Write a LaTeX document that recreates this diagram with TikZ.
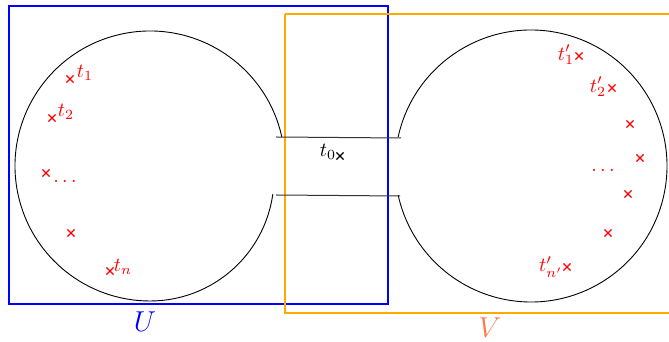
\documentclass[tikz,border=0pt]{standalone}
\usetikzlibrary{shapes.misc}
\definecolor{uorange}{RGB}{255,170,0}
\definecolor{vcoral}{RGB}{255,120,70}
\tikzset{
  crossmark/.style={draw=red, cross out, minimum size=3pt, inner sep=0pt, line width=0.6pt},
  blackmark/.style={draw=black, cross out, minimum size=3pt, inner sep=0pt, line width=0.6pt},
  redlab/.style={text=red, inner sep=0pt},
  outline/.style={line width=0.45pt, black},
  neck/.style={line width=0.5pt, black!80},
  setbox/.style={line width=1.4pt},
}
\begin{document}
\begin{tikzpicture}[x=0.5pt,y=0.5pt]
\useasboundingbox (0,0) rectangle (669,342);
% boxes
\draw[setbox, blue] (9,336) rectangle (388,38);
\draw[setbox, uorange] (285,328) -- (690,328) (285,328) -- (285,29) -- (690,29);
% left disc
\coordinate (LC) at (150,176);
\draw[outline] (LC) ++(12.4:135) arc[start angle=12.4, end angle=270, radius=135]
  arc[start angle=-90, end angle=-7.9, radius=124];
% right disc
\coordinate (RC) at (531,176);
\draw[outline] (RC) ++(167.7:136) arc[start angle=167.7, end angle=-167.7, radius=136];
% neck lines
\coordinate (n1) at (276,205);
\coordinate (n2) at (401,204);
\coordinate (n3) at (276,147);
\coordinate (n4) at (400,146);
\draw[neck] (n1) -- (n2);
\draw[neck] (n3) -- (n4);
% left points
\node[crossmark] (c1) at (70,263) {};
\node[redlab] (l1) at (85,269) {$t_1$};
\node[crossmark] (c2) at (52,224) {};
\node[redlab] (l2) at (66,230) {$t_2$};
\node[crossmark] (c3) at (46,169) {};
\node[redlab] (ld) at (65,161) {$\ldots$};
\node[crossmark] (c4) at (71,109) {};
\node[crossmark] (c5) at (110,71) {};
\node[redlab] (ln) at (123,75) {$t_n$};
% right points
\node[crossmark] (d1) at (579,286) {};
\node[redlab] (m1) at (566,287) {$t'_1$};
\node[crossmark] (d2) at (612,254) {};
\node[redlab] (m2) at (598,255) {$t'_2$};
\node[crossmark] (d3) at (630,218) {};
\node[crossmark] (d4) at (640,184) {};
\node[redlab] (md) at (603,172) {$\ldots$};
\node[crossmark] (d5) at (628,148) {};
\node[crossmark] (d6) at (608,109) {};
\node[crossmark] (d7) at (567,75) {};
\node[redlab] (mn) at (551,75) {$t'_{n'}$};
% t0
\node[blackmark] (c0) at (340,186) {};
\node[inner sep=0pt] (l0) at (328,190) {$t_0$};
% set labels
\node[text=blue, inner sep=0pt] (U) at (145,20) {\Large $U$};
\node[text=vcoral, inner sep=0pt] (V) at (490,14) {\Large $V$};
\end{tikzpicture}
\end{document}
